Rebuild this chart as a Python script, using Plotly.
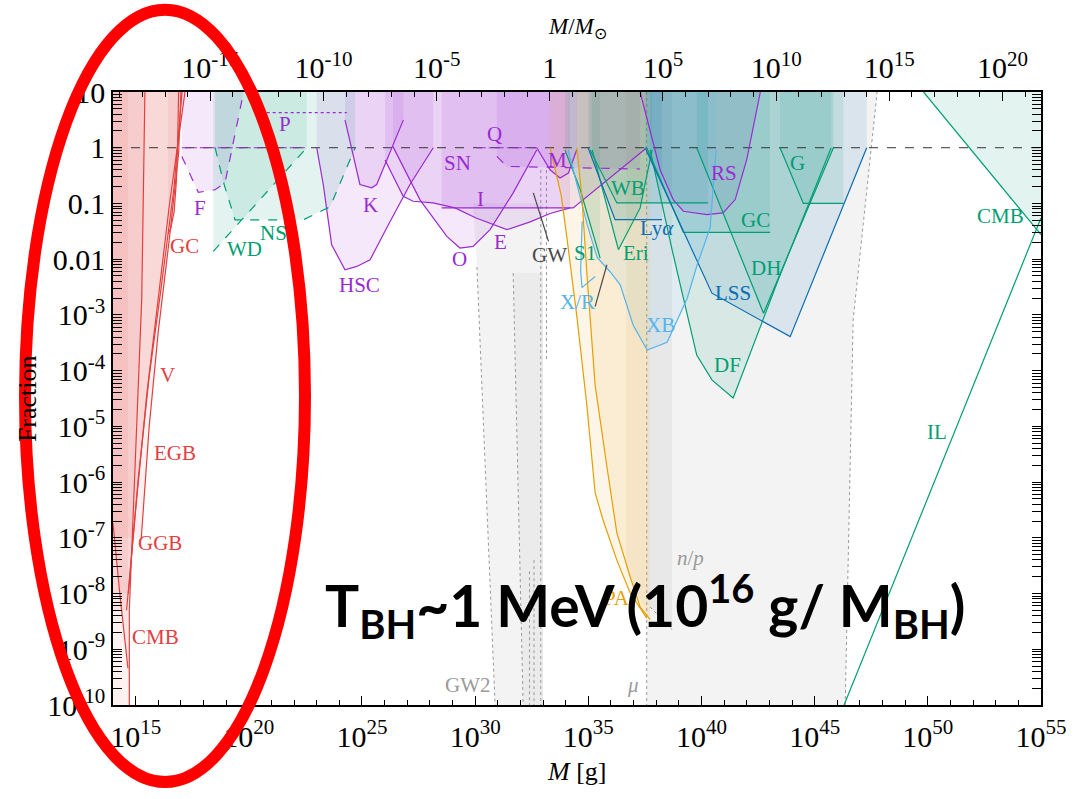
import plotly.graph_objects as go

# Axis limits in log10 units
M_MIN, M_MAX = 14.0, 55.0          # log10 M [g]
F_MIN, F_MAX = -10.0, 1.0          # log10 fraction
LOG_MSUN = 33.2986                 # log10 of solar mass in grams

# ---------------- evaporation constraints (red) -----------------
EGB_M = [14.6, 15.0, 15.5, 15.94, 16.5, 17.18]
EGB_F = [-8.3, -6.5, -4.4, -2.9, -1.0, 1.0]
GGB_M = [14.68, 15.1, 15.6, 16.1, 16.7, 17.05]
GGB_F = [-8.0, -6.0, -4.1, -2.6, -0.7, 1.0]
VOY_M = [15.25, 15.6, 16.0, 16.5, 16.9, 17.0]
VOY_F = [-7.0, -5.0, -3.3, -1.6, -0.1, 1.0]
CMBE_M = [14.72, 14.72, 14.85, 15.1, 15.27, 15.41]
CMBE_F = [-10.0, -8.3, -7.0, -4.5, -2.7, 1.0]
CMBE2_M = [14.0, 14.3, 14.66]
CMBE2_F = [-6.74, -8.0, -9.34]
GCE_M = [16.43, 16.55, 16.7, 16.8, 16.85, 16.9]
GCE_F = [-1.55, -1.45, -1.15, -0.6, 0.0, 1.0]

# ---------------- lensing constraints (purple) -----------------
FEMTO_M = [17.04, 17.77, 18.51, 18.95, 19.76]
FEMTO_F = [-0.156, -0.80, -0.754, -0.63, 0.98]
FEMTO_OLD_M = [17.04, 22.5]
FEMTO_OLD_F = [0.0, 0.0]
P_M = [20.79, 24.33]
P_F = [0.63, 0.63]
KEP_M = [24.25, 24.91, 25.43, 25.65, 26.83]
KEP_F = [0.5, -0.66, -0.72, -0.66, 0.5]
HSC_M = [23.0, 23.29, 23.66, 24.25, 24.77, 25.36, 26.09, 27.12, 28.15]
HSC_F = [0.0, -0.66, -1.74, -2.19, -2.13, -2.01, -1.44, -0.66, 0.0]
OGLE_M = [26.37, 27.57, 28.75, 29.33, 29.91, 30.66, 31.68, 32.72]
OGLE_F = [0.02, -0.94, -1.59, -1.80, -1.77, -1.47, -0.81, -0.04]
EROS_M = [26.02, 26.82, 27.26, 28.14, 29.11, 30.04, 31.4, 32.43, 33.31, 34.19]
EROS_F = [-0.22, -0.87, -0.96, -0.99, -1.08, -1.26, -1.47, -1.33, -1.18, -1.08]
ICARUS_M = [28.52, 34.33, 37.58]
ICARUS_F = [-1.08, -1.08, 0.0]
SN_M = [30.96, 31.40, 37.29]
SN_F = [-0.156, -0.336, -0.382]
QSO_M = [30.07, 32.72]
QSO_F = [0.0, 0.0]
MILLI_M = [32.72, 33.31, 33.75, 34.12, 34.49]
MILLI_F = [0.0, -0.395, -0.544, -0.454, -0.036]
RS_M = [37.29, 38.17, 38.75, 39.2, 40.24, 40.95, 41.49, 42.0, 42.6]
RS_F = [1.0, -0.395, -0.93, -1.14, -1.2, -1.17, -0.93, -0.21, 1.0]

# ---------------- dynamical constraints (green) -----------------
WD_M = [18.43, 22.56]
WD_F = [-1.86, 0.0]
NS_M = [18.51, 18.87, 19.39, 22.41, 23.59, 24.62, 24.7]
NS_F = [0.0, -0.605, -1.293, -1.293, -1.06, -0.095, 0.0]
WB_M = [35.08, 36.26, 40.29]
WB_F = [-0.04, -0.99, -0.99]
ERI_M = [35.17, 36.33, 37.29, 37.82]
ERI_F = [-0.04, -1.83, -1.08, -0.04]
S1_M = [33.97, 34.64, 35.52]
S1_F = [-0.04, -0.75, -1.98]
GCD_M = [37.58, 39.2, 43.03]
GCD_F = [0.0, -1.52, -1.52]
DH_M = [39.79, 42.74, 45.83]
DH_F = [0.0, -2.97, 0.0]
GAL_M = [43.47, 44.5, 46.27]
GAL_F = [0.0, -1.0, -1.0]
DF_M = [37.73, 38.7, 39.79, 40.47, 41.4, 43.39, 45.73]
DF_F = [-0.04, -1.83, -3.72, -4.17, -4.49, -2.37, 0.0]
CMBA_M = [49.81, 55.0]
CMBA_F = [1.0, -1.56]
IL_M = [46.3, 55.0]
IL_F = [-10.0, -1.26]

# ---------------- blue constraints -----------------
LYA_M = [34.99, 36.18, 38.26]
LYA_F = [0.0, -1.29, -1.29]
LSS_M = [37.51, 40.46, 43.92, 47.3]
LSS_F = [0.0, -2.61, -3.39, 0.0]
XB_M = [34.11, 34.95, 35.39, 35.97, 36.41, 36.98, 37.6, 38.48, 39.37, 39.81, 40.38, 40.65]
XB_F = [-0.04, -1.38, -1.97, -2.23, -2.46, -3.18, -3.63, -3.49, -2.70, -2.10, -1.44, -0.04]
XR_M = [34.73, 34.66, 34.72, 35.0, 35.3]
XR_F = [-1.32, -2.2, -2.51, -2.42, -2.31]

# ---------------- gravitational waves (dark) -----------------
GW_M = [32.57, 33.24]
GW_F = [-0.81, -1.68]
GWB_M = [35.82, 35.30]
GWB_F = [-2.10, -2.85]

# ---------------- accretion (orange) -----------------
PA1_M = [33.31, 33.8, 34.05, 34.3, 34.5, 34.93, 35.3, 35.65, 36.26, 36.85, 37.58]
PA1_F = [0.0, -0.85, -1.6, -2.4, -3.05, -4.6, -6.19, -6.68, -7.4, -7.99, -8.44]
PA2_M = [34.49, 34.71, 34.93, 35.3, 35.82, 36.26, 36.85, 37.29, 37.73]
PA2_F = [0.0, -0.84, -2.22, -4.26, -5.72, -6.91, -7.70, -8.24, -8.47]
PAB_M = [36.67, 36.67, 37.73, 37.73]
PAB_F = [1.0, -7.6, -8.47, 1.0]

# ---------------- background regions (grey) -----------------
GW2_M = [29.9, 30.08, 30.88, 33.0, 33.0]
GW2_F = [-1.0, -2.14, -10.0, -10.0, -1.0]
GW2B_M = [31.68, 32.12, 33.0, 33.0]
GW2B_F = [-2.25, -10.0, -10.0, -2.25]
MU_M = [37.58, 37.58, 46.35, 46.70, 47.76]
MU_F = [1.0, -10.0, -10.0, -3.09, 1.0]
NP_M = [37.73, 37.73, 38.70, 38.70]
NP_F = [1.0, -8.24, -8.65, 1.0]

RED = "#e2403f"
PURPLE = "#9a2ad2"
GREEN = "#009e73"
BLUE = "#0a6eb4"
SKY = "#56b4e9"
ORANGE = "#e69f00"
GREY = "#9a9a9a"
DARK = "#4a4a4a"


def rgba(hex_color, a):
    h = hex_color.lstrip("#")
    r, g, b = int(h[0:2], 16), int(h[2:4], 16), int(h[4:6], 16)
    return f"rgba({r},{g},{b},{a})"


def pw(arr):
    return [10.0 ** v for v in arr]


fig = go.Figure()

# grey background bands
for m, f, a in [(GW2_M, GW2_F, 0.10), (GW2B_M, GW2B_F, 0.08),
                (MU_M, MU_F, 0.10), (NP_M, NP_F, 0.10)]:
    fig.add_trace(go.Scatter(x=pw(m), y=pw(f), fill="toself", mode="lines",
                             line=dict(width=0), fillcolor=rgba("#8c8c8c", a),
                             hoverinfo="skip", showlegend=False))

# dotted edges of the grey bands
GREY_DOTS = [
    ([30.08, 30.88], [-2.14, -10.0]),
    ([31.68, 32.12], [-2.25, -10.0]),
    ([32.4, 32.4], [-7.6, -10.0]),
    ([32.6, 32.6], [-7.4, -10.0]),
    ([32.9, 32.9], [-0.4, -10.0]),
    ([33.15, 33.15], [-0.4, -3.8]),
    ([37.58, 37.58], [1.0, -10.0]),
    ([46.35, 46.70, 47.76], [-10.0, -3.09, 1.0]),
    ([37.73, 38.70], [-8.24, -8.65]),
]
for m, f in GREY_DOTS:
    fig.add_trace(go.Scatter(x=pw(m), y=pw(f), mode="lines",
                             line=dict(color=GREY, width=1, dash="dot"),
                             hoverinfo="skip", showlegend=False))

# (mass, fraction, colour, dash, closing, filled)
CONSTRAINTS = [
    (CMBE2_M, CMBE2_F, RED, "solid", "left", True),
    (CMBE_M, CMBE_F, RED, "solid", "left", True),
    (EGB_M, EGB_F, RED, "solid", "left", True),
    (GGB_M, GGB_F, RED, "solid", "left", True),
    (VOY_M, VOY_F, RED, "solid", "left", True),
    (GCE_M, GCE_F, RED, "solid", "top", True),
    (FEMTO_M, FEMTO_F, PURPLE, "dash", "top", True),
    (FEMTO_OLD_M, FEMTO_OLD_F, PURPLE, "dashdot", "top", False),
    (P_M, P_F, PURPLE, "dot", "top", False),
    (HSC_M, HSC_F, PURPLE, "solid", "top", True),
    (KEP_M, KEP_F, PURPLE, "solid", "top", True),
    (OGLE_M, OGLE_F, PURPLE, "solid", "top", True),
    (EROS_M, EROS_F, PURPLE, "solid", "top", True),
    (ICARUS_M, ICARUS_F, PURPLE, "solid", "top", True),
    (SN_M, SN_F, PURPLE, "dash", "top", True),
    (QSO_M, QSO_F, PURPLE, "dashdot", "top", False),
    (MILLI_M, MILLI_F, PURPLE, "solid", "top", True),
    (RS_M, RS_F, PURPLE, "solid", "top", True),
    (WD_M, WD_F, GREEN, "dash", "top", True),
    (NS_M, NS_F, GREEN, "dash", "top", True),
    (S1_M, S1_F, GREEN, "solid", "top", True),
    (WB_M, WB_F, GREEN, "solid", "top", True),
    (ERI_M, ERI_F, GREEN, "solid", "top", True),
    (GCD_M, GCD_F, GREEN, "solid", "top", True),
    (DH_M, DH_F, GREEN, "solid", "top", True),
    (GAL_M, GAL_F, GREEN, "solid", "top", True),
    (DF_M, DF_F, GREEN, "solid", "top", True),
    (CMBA_M, CMBA_F, GREEN, "solid", "top", True),
    (IL_M, IL_F, GREEN, "solid", "top", False),
    (LYA_M, LYA_F, BLUE, "solid", "top", True),
    (LSS_M, LSS_F, BLUE, "solid", "top", True),
    (XB_M, XB_F, SKY, "solid", "top", True),
    (XR_M, XR_F, SKY, "solid", "top", False),
    (PA1_M, PA1_F, ORANGE, "solid", "top", True),
    (PA2_M, PA2_F, ORANGE, "solid", "top", True),
    (GW_M, GW_F, DARK, "solid", "top", False),
    (GWB_M, GWB_F, DARK, "solid", "top", False),
]
FILL_ALPHA = {RED: 0.075, ORANGE: 0.09}

# filled exclusion regions
fig.add_trace(go.Scatter(x=pw(PAB_M), y=pw(PAB_F), fill="toself", mode="lines",
                         line=dict(width=0), fillcolor=rgba("#c8a060", 0.10),
                         hoverinfo="skip", showlegend=False))
for m, f, col, dash, close, filled in CONSTRAINTS:
    if not filled:
        continue
    if close == "top":
        px = [m[0]] + list(m) + [m[-1]]
        py = [F_MAX] + list(f) + [F_MAX]
    else:
        px = list(m) + [m[-1], M_MIN, M_MIN]
        py = list(f) + [F_MAX, F_MAX, f[0]]
    a = FILL_ALPHA.get(col, 0.11)
    fig.add_trace(go.Scatter(x=pw(px), y=pw(py), fill="toself", mode="lines",
                             line=dict(width=0), fillcolor=rgba(col, a),
                             hoverinfo="skip", showlegend=False))

# f = 1 reference line
fig.add_trace(go.Scatter(x=pw([M_MIN, M_MAX]), y=[1, 1], mode="lines",
                         line=dict(color="#333333", width=1, dash="dash"),
                         hoverinfo="skip", showlegend=False))

# constraint boundaries
for m, f, col, dash, close, filled in CONSTRAINTS:
    fig.add_trace(go.Scatter(x=pw(m), y=pw(f), mode="lines",
                             line=dict(color=col, width=1.2, dash=dash),
                             hoverinfo="skip", showlegend=False))

# carrier for the solar-mass axis on top
fig.add_trace(go.Scatter(x=[10 ** (M_MIN - LOG_MSUN), 10 ** (M_MAX - LOG_MSUN)],
                         y=[1e-10, 1e-10], xaxis="x2", mode="lines",
                         line=dict(width=0), hoverinfo="skip", showlegend=False))

# constraint labels: text, log10 M, log10 f, colour
LABELS = [
    ("GC", 17.18, -1.76, RED), ("V", 16.39, -4.08, RED), ("EGB", 16.74, -5.48, RED),
    ("GGB", 16.08, -7.09, RED), ("CMB", 15.86, -8.78, RED),
    ("F", 17.84, -1.08, PURPLE), ("P", 21.6, 0.43, PURPLE), ("K", 25.36, -1.02, PURPLE),
    ("HSC", 24.91, -2.46, PURPLE), ("O", 29.33, -2.0, PURPLE), ("E", 31.1, -1.69, PURPLE),
    ("I", 30.22, -0.92, PURPLE), ("SN", 29.24, -0.27, PURPLE), ("Q", 30.84, 0.25, PURPLE),
    ("M", 33.66, -0.215, PURPLE), ("RS", 41.0, -0.45, PURPLE),
    ("WD", 19.83, -1.81, GREEN), ("NS", 21.11, -1.53, GREEN), ("WB", 36.76, -0.72, GREEN),
    ("S1", 34.86, -1.885, GREEN), ("Eri", 37.11, -1.885, GREEN), ("GC", 42.37, -1.29, GREEN),
    ("G", 44.23, -0.27, GREEN), ("DH", 42.86, -2.16, GREEN), ("DF", 41.13, -3.90, GREEN),
    ("CMB", 53.2, -1.22, GREEN), ("IL", 50.41, -5.1, GREEN),
    ("Ly<i>α</i>", 38.04, -1.44, BLUE), ("LSS", 41.4, -2.6, BLUE),
    ("X/R", 34.5, -2.76, SKY), ("XB", 38.17, -3.18, SKY),
    ("GW", 33.27, -1.92, DARK), ("PA", 36.27, -8.08, ORANGE),
    ("GW2", 29.69, -9.64, GREY), ("<i>μ</i>", 36.98, -9.64, GREY),
    ("<i>n</i>/<i>p</i>", 39.5, -7.36, GREY),
]
annotations = []
for text, lm, lf, col in LABELS:
    annotations.append(dict(x=lm, y=lf, xref="x", yref="y", text=text, showarrow=False,
                            font=dict(family="Liberation Serif", size=21, color=col),
                            xanchor="center", yanchor="middle"))

SERIF = "Liberation Serif"
annotations += [
    dict(x=0.5, y=-0.108, xref="paper", yref="paper", text="<i>M</i> [g]",
         showarrow=False, font=dict(family=SERIF, size=26, color="black"),
         xanchor="center", yanchor="middle"),
    dict(x=0.5, y=1.105, xref="paper", yref="paper", text="<i>M</i>/<i>M</i><sub>⊙</sub>",
         showarrow=False, font=dict(family=SERIF, size=23, color="black"),
         xanchor="center", yanchor="middle"),
    dict(x=-0.092, y=0.50, xref="paper", yref="paper", text="Fraction", textangle=-90,
         showarrow=False, font=dict(family=SERIF, size=26, color="black"),
         xanchor="center", yanchor="middle"),
    dict(x=0.573, y=0.163, xref="paper", yref="paper",
         text="<b>T<sub>BH</sub>~1 MeV (10<sup>16</sup> g/ M<sub>BH</sub>)</b>",
         showarrow=False, font=dict(family="Lato", size=57, color="black"),
         xanchor="center", yanchor="middle"),
]

# tick setup
X_MAJOR = list(range(15, 56, 5))
X_TICKTEXT = [f"10<sup>{k}</sup>" for k in X_MAJOR]
TOP_MAJOR = list(range(-15, 21, 5))
TOP_TICKTEXT = ["1" if k == 0 else f"10<sup>{k}</sup>" for k in TOP_MAJOR]
Y_MAJOR = list(range(-10, 2))
Y_TICKTEXT = {1: "10", 0: "1", -1: "0.1", -2: "0.01"}
Y_TEXT = [Y_TICKTEXT.get(k, f"10<sup>{k}</sup>") for k in Y_MAJOR]
Y_MINOR = [m * 10.0 ** k for k in range(-10, 1) for m in range(2, 10)]

TICK_FONT = dict(family=SERIF, size=30, color="black")


def axis_style(**extra):
    style = dict(type="log", showgrid=False, zeroline=False, ticks="inside",
                 ticklen=9, tickwidth=1.2, tickcolor="black", showline=True,
                 linecolor="black", linewidth=1.5, tickfont=TICK_FONT)
    style.update(extra)
    return style


fig.update_layout(
    width=1089, height=799, autosize=False,
    margin=dict(l=113, r=48, t=92, b=94),
    paper_bgcolor="white", plot_bgcolor="white",
    xaxis=axis_style(range=[M_MIN, M_MAX], tickmode="array", tickvals=pw(X_MAJOR),
                     ticktext=X_TICKTEXT, mirror=True, ticklabelstandoff=4,
                     minor=dict(tickmode="array", tickvals=pw(range(14, 56)), ticklen=5,
                                ticks="inside", tickcolor="black")),
    xaxis2=axis_style(range=[M_MIN - LOG_MSUN, M_MAX - LOG_MSUN], overlaying="x",
                      side="top", tickmode="array", tickvals=pw(TOP_MAJOR),
                      ticktext=TOP_TICKTEXT,
                      minor=dict(tickmode="array", tickvals=pw(range(-19, 22)), ticklen=5,
                                 ticks="inside", tickcolor="black")),
    yaxis=axis_style(range=[F_MIN, F_MAX], tickmode="array", tickvals=pw(Y_MAJOR),
                     ticktext=Y_TEXT, mirror="allticks",
                     minor=dict(tickmode="array", tickvals=Y_MINOR, ticklen=5,
                                ticks="inside", tickcolor="black")),
    annotations=annotations,
    shapes=[dict(type="circle", xref="paper", yref="paper",
                 x0=-0.0948, x1=0.2069, y0=-0.1257, y1=1.1343,
                 line=dict(color="#ff0000", width=12), layer="above")],
)

fig.write_html("out.html")
